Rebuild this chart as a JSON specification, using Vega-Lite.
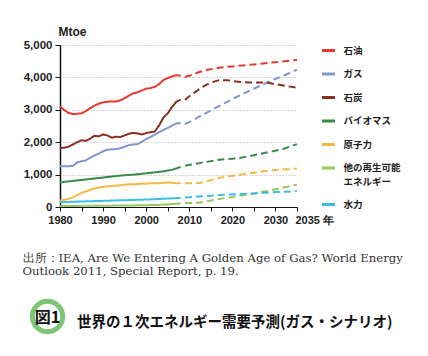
{
  "$schema": "https://vega.github.io/schema/vega-lite/v6.json",
  "width": 237,
  "height": 162,
  "autosize": {"type": "none"},
  "padding": {"left": 60, "top": 45, "right": 131, "bottom": 149},
  "background": "white",
  "config": {"view": {"stroke": null}, "font": "Liberation Sans", "style": {"guide-label": {"lineHeight": 14}}},
  "resolve": {"axis": {"x": "independent", "y": "independent"}},
  "title": {
    "text": "世界の１次エネルギー需要予測(ガス・シナリオ)",
    "orient": "bottom",
    "anchor": "start",
    "frame": "group",
    "dx": 17,
    "offset": -26,
    "font": "Noto Sans CJK JP",
    "fontSize": 14.5,
    "fontWeight": "bold",
    "color": "#111",
    "baseline": "top"
  },
  "layer": [
    {
      "data": {
        "values": [
          {"s": "石油", "t": "実績", "yr": 1980, "v": 3100},
          {"s": "石油", "t": "実績", "yr": 1981, "v": 2990},
          {"s": "石油", "t": "実績", "yr": 1982, "v": 2900},
          {"s": "石油", "t": "実績", "yr": 1983, "v": 2870},
          {"s": "石油", "t": "実績", "yr": 1984, "v": 2880},
          {"s": "石油", "t": "実績", "yr": 1985, "v": 2890},
          {"s": "石油", "t": "実績", "yr": 1986, "v": 2960},
          {"s": "石油", "t": "実績", "yr": 1987, "v": 3050},
          {"s": "石油", "t": "実績", "yr": 1988, "v": 3130},
          {"s": "石油", "t": "実績", "yr": 1989, "v": 3190},
          {"s": "石油", "t": "実績", "yr": 1990, "v": 3230},
          {"s": "石油", "t": "実績", "yr": 1991, "v": 3250},
          {"s": "石油", "t": "実績", "yr": 1992, "v": 3260},
          {"s": "石油", "t": "実績", "yr": 1993, "v": 3260},
          {"s": "石油", "t": "実績", "yr": 1994, "v": 3290},
          {"s": "石油", "t": "実績", "yr": 1995, "v": 3360},
          {"s": "石油", "t": "実績", "yr": 1996, "v": 3440},
          {"s": "石油", "t": "実績", "yr": 1997, "v": 3510},
          {"s": "石油", "t": "実績", "yr": 1998, "v": 3540},
          {"s": "石油", "t": "実績", "yr": 1999, "v": 3600},
          {"s": "石油", "t": "実績", "yr": 2000, "v": 3650},
          {"s": "石油", "t": "実績", "yr": 2001, "v": 3670},
          {"s": "石油", "t": "実績", "yr": 2002, "v": 3710},
          {"s": "石油", "t": "実績", "yr": 2003, "v": 3790},
          {"s": "石油", "t": "実績", "yr": 2004, "v": 3920},
          {"s": "石油", "t": "実績", "yr": 2005, "v": 3980},
          {"s": "石油", "t": "実績", "yr": 2006, "v": 4030},
          {"s": "石油", "t": "実績", "yr": 2007, "v": 4070},
          {"s": "石油", "t": "実績", "yr": 2008, "v": 4050},
          {"s": "石油", "t": "予測", "yr": 2009, "v": 4010},
          {"s": "石油", "t": "予測", "yr": 2010, "v": 4050},
          {"s": "石油", "t": "予測", "yr": 2012, "v": 4150},
          {"s": "石油", "t": "予測", "yr": 2014, "v": 4230},
          {"s": "石油", "t": "予測", "yr": 2017, "v": 4300},
          {"s": "石油", "t": "予測", "yr": 2020, "v": 4340},
          {"s": "石油", "t": "予測", "yr": 2025, "v": 4400},
          {"s": "石油", "t": "予測", "yr": 2030, "v": 4470},
          {"s": "石油", "t": "予測", "yr": 2035, "v": 4540},

          {"s": "ガス", "t": "実績", "yr": 1980, "v": 1260},
          {"s": "ガス", "t": "実績", "yr": 1981, "v": 1260},
          {"s": "ガス", "t": "実績", "yr": 1982, "v": 1260},
          {"s": "ガス", "t": "実績", "yr": 1983, "v": 1270},
          {"s": "ガス", "t": "実績", "yr": 1984, "v": 1380},
          {"s": "ガス", "t": "実績", "yr": 1985, "v": 1410},
          {"s": "ガス", "t": "実績", "yr": 1986, "v": 1440},
          {"s": "ガス", "t": "実績", "yr": 1987, "v": 1520},
          {"s": "ガス", "t": "実績", "yr": 1988, "v": 1590},
          {"s": "ガス", "t": "実績", "yr": 1989, "v": 1650},
          {"s": "ガス", "t": "実績", "yr": 1990, "v": 1720},
          {"s": "ガス", "t": "実績", "yr": 1991, "v": 1770},
          {"s": "ガス", "t": "実績", "yr": 1992, "v": 1780},
          {"s": "ガス", "t": "実績", "yr": 1993, "v": 1790},
          {"s": "ガス", "t": "実績", "yr": 1994, "v": 1810},
          {"s": "ガス", "t": "実績", "yr": 1995, "v": 1860},
          {"s": "ガス", "t": "実績", "yr": 1996, "v": 1910},
          {"s": "ガス", "t": "実績", "yr": 1997, "v": 1930},
          {"s": "ガス", "t": "実績", "yr": 1998, "v": 1940},
          {"s": "ガス", "t": "実績", "yr": 1999, "v": 2010},
          {"s": "ガス", "t": "実績", "yr": 2000, "v": 2100},
          {"s": "ガス", "t": "実績", "yr": 2001, "v": 2160},
          {"s": "ガス", "t": "実績", "yr": 2002, "v": 2230},
          {"s": "ガス", "t": "実績", "yr": 2003, "v": 2310},
          {"s": "ガス", "t": "実績", "yr": 2004, "v": 2380},
          {"s": "ガス", "t": "実績", "yr": 2005, "v": 2440},
          {"s": "ガス", "t": "実績", "yr": 2006, "v": 2510},
          {"s": "ガス", "t": "実績", "yr": 2007, "v": 2580},
          {"s": "ガス", "t": "実績", "yr": 2008, "v": 2590},
          {"s": "ガス", "t": "予測", "yr": 2009, "v": 2560},
          {"s": "ガス", "t": "予測", "yr": 2010, "v": 2620},
          {"s": "ガス", "t": "予測", "yr": 2013, "v": 2840},
          {"s": "ガス", "t": "予測", "yr": 2017, "v": 3120},
          {"s": "ガス", "t": "予測", "yr": 2021, "v": 3400},
          {"s": "ガス", "t": "予測", "yr": 2025, "v": 3650},
          {"s": "ガス", "t": "予測", "yr": 2029, "v": 3900},
          {"s": "ガス", "t": "予測", "yr": 2032, "v": 4060},
          {"s": "ガス", "t": "予測", "yr": 2035, "v": 4240},

          {"s": "石炭", "t": "実績", "yr": 1980, "v": 1820},
          {"s": "石炭", "t": "実績", "yr": 1981, "v": 1830},
          {"s": "石炭", "t": "実績", "yr": 1982, "v": 1860},
          {"s": "石炭", "t": "実績", "yr": 1983, "v": 1930},
          {"s": "石炭", "t": "実績", "yr": 1984, "v": 2000},
          {"s": "石炭", "t": "実績", "yr": 1985, "v": 2060},
          {"s": "石炭", "t": "実績", "yr": 1986, "v": 2040},
          {"s": "石炭", "t": "実績", "yr": 1987, "v": 2110},
          {"s": "石炭", "t": "実績", "yr": 1988, "v": 2200},
          {"s": "石炭", "t": "実績", "yr": 1989, "v": 2180},
          {"s": "石炭", "t": "実績", "yr": 1990, "v": 2240},
          {"s": "石炭", "t": "実績", "yr": 1991, "v": 2210},
          {"s": "石炭", "t": "実績", "yr": 1992, "v": 2140},
          {"s": "石炭", "t": "実績", "yr": 1993, "v": 2170},
          {"s": "石炭", "t": "実績", "yr": 1994, "v": 2160},
          {"s": "石炭", "t": "実績", "yr": 1995, "v": 2210},
          {"s": "石炭", "t": "実績", "yr": 1996, "v": 2260},
          {"s": "石炭", "t": "実績", "yr": 1997, "v": 2290},
          {"s": "石炭", "t": "実績", "yr": 1998, "v": 2270},
          {"s": "石炭", "t": "実績", "yr": 1999, "v": 2240},
          {"s": "石炭", "t": "実績", "yr": 2000, "v": 2280},
          {"s": "石炭", "t": "実績", "yr": 2001, "v": 2310},
          {"s": "石炭", "t": "実績", "yr": 2002, "v": 2330},
          {"s": "石炭", "t": "実績", "yr": 2003, "v": 2520},
          {"s": "石炭", "t": "実績", "yr": 2004, "v": 2760},
          {"s": "石炭", "t": "実績", "yr": 2005, "v": 2890},
          {"s": "石炭", "t": "実績", "yr": 2006, "v": 3090},
          {"s": "石炭", "t": "実績", "yr": 2007, "v": 3250},
          {"s": "石炭", "t": "実績", "yr": 2008, "v": 3310},
          {"s": "石炭", "t": "予測", "yr": 2009, "v": 3300},
          {"s": "石炭", "t": "予測", "yr": 2010, "v": 3420},
          {"s": "石炭", "t": "予測", "yr": 2013, "v": 3700},
          {"s": "石炭", "t": "予測", "yr": 2015, "v": 3840},
          {"s": "石炭", "t": "予測", "yr": 2017, "v": 3920},
          {"s": "石炭", "t": "予測", "yr": 2019, "v": 3910},
          {"s": "石炭", "t": "予測", "yr": 2021, "v": 3870},
          {"s": "石炭", "t": "予測", "yr": 2024, "v": 3840},
          {"s": "石炭", "t": "予測", "yr": 2028, "v": 3840},
          {"s": "石炭", "t": "予測", "yr": 2030, "v": 3790},
          {"s": "石炭", "t": "予測", "yr": 2035, "v": 3680},

          {"s": "バイオマス", "t": "実績", "yr": 1980, "v": 760},
          {"s": "バイオマス", "t": "実績", "yr": 1982, "v": 790},
          {"s": "バイオマス", "t": "実績", "yr": 1984, "v": 820},
          {"s": "バイオマス", "t": "実績", "yr": 1986, "v": 850},
          {"s": "バイオマス", "t": "実績", "yr": 1988, "v": 880},
          {"s": "バイオマス", "t": "実績", "yr": 1990, "v": 910},
          {"s": "バイオマス", "t": "実績", "yr": 1992, "v": 940},
          {"s": "バイオマス", "t": "実績", "yr": 1994, "v": 970},
          {"s": "バイオマス", "t": "実績", "yr": 1996, "v": 990},
          {"s": "バイオマス", "t": "実績", "yr": 1998, "v": 1010},
          {"s": "バイオマス", "t": "実績", "yr": 2000, "v": 1040},
          {"s": "バイオマス", "t": "実績", "yr": 2002, "v": 1070},
          {"s": "バイオマス", "t": "実績", "yr": 2004, "v": 1100},
          {"s": "バイオマス", "t": "実績", "yr": 2006, "v": 1150},
          {"s": "バイオマス", "t": "実績", "yr": 2007, "v": 1190},
          {"s": "バイオマス", "t": "実績", "yr": 2008, "v": 1240},
          {"s": "バイオマス", "t": "予測", "yr": 2009, "v": 1270},
          {"s": "バイオマス", "t": "予測", "yr": 2013, "v": 1370},
          {"s": "バイオマス", "t": "予測", "yr": 2017, "v": 1460},
          {"s": "バイオマス", "t": "予測", "yr": 2021, "v": 1500},
          {"s": "バイオマス", "t": "予測", "yr": 2025, "v": 1600},
          {"s": "バイオマス", "t": "予測", "yr": 2029, "v": 1710},
          {"s": "バイオマス", "t": "予測", "yr": 2032, "v": 1800},
          {"s": "バイオマス", "t": "予測", "yr": 2035, "v": 1940},

          {"s": "原子力", "t": "実績", "yr": 1980, "v": 200},
          {"s": "原子力", "t": "実績", "yr": 1981, "v": 220},
          {"s": "原子力", "t": "実績", "yr": 1982, "v": 250},
          {"s": "原子力", "t": "実績", "yr": 1983, "v": 300},
          {"s": "原子力", "t": "実績", "yr": 1984, "v": 370},
          {"s": "原子力", "t": "実績", "yr": 1985, "v": 440},
          {"s": "原子力", "t": "実績", "yr": 1986, "v": 480},
          {"s": "原子力", "t": "実績", "yr": 1987, "v": 530},
          {"s": "原子力", "t": "実績", "yr": 1988, "v": 570},
          {"s": "原子力", "t": "実績", "yr": 1989, "v": 600},
          {"s": "原子力", "t": "実績", "yr": 1990, "v": 620},
          {"s": "原子力", "t": "実績", "yr": 1991, "v": 640},
          {"s": "原子力", "t": "実績", "yr": 1992, "v": 650},
          {"s": "原子力", "t": "実績", "yr": 1993, "v": 660},
          {"s": "原子力", "t": "実績", "yr": 1994, "v": 670},
          {"s": "原子力", "t": "実績", "yr": 1995, "v": 690},
          {"s": "原子力", "t": "実績", "yr": 1996, "v": 700},
          {"s": "原子力", "t": "実績", "yr": 1997, "v": 700},
          {"s": "原子力", "t": "実績", "yr": 1998, "v": 710},
          {"s": "原子力", "t": "実績", "yr": 1999, "v": 720},
          {"s": "原子力", "t": "実績", "yr": 2000, "v": 720},
          {"s": "原子力", "t": "実績", "yr": 2001, "v": 730},
          {"s": "原子力", "t": "実績", "yr": 2002, "v": 740},
          {"s": "原子力", "t": "実績", "yr": 2003, "v": 730},
          {"s": "原子力", "t": "実績", "yr": 2004, "v": 750},
          {"s": "原子力", "t": "実績", "yr": 2005, "v": 760},
          {"s": "原子力", "t": "実績", "yr": 2006, "v": 750},
          {"s": "原子力", "t": "実績", "yr": 2007, "v": 730},
          {"s": "原子力", "t": "実績", "yr": 2008, "v": 730},
          {"s": "原子力", "t": "予測", "yr": 2009, "v": 730},
          {"s": "原子力", "t": "予測", "yr": 2012, "v": 730},
          {"s": "原子力", "t": "予測", "yr": 2014, "v": 790},
          {"s": "原子力", "t": "予測", "yr": 2017, "v": 900},
          {"s": "原子力", "t": "予測", "yr": 2021, "v": 980},
          {"s": "原子力", "t": "予測", "yr": 2025, "v": 1060},
          {"s": "原子力", "t": "予測", "yr": 2029, "v": 1130},
          {"s": "原子力", "t": "予測", "yr": 2035, "v": 1190},

          {"s": "他の再生可能エネルギー", "t": "実績", "yr": 1980, "v": 30},
          {"s": "他の再生可能エネルギー", "t": "実績", "yr": 1985, "v": 35},
          {"s": "他の再生可能エネルギー", "t": "実績", "yr": 1990, "v": 40},
          {"s": "他の再生可能エネルギー", "t": "実績", "yr": 1995, "v": 45},
          {"s": "他の再生可能エネルギー", "t": "実績", "yr": 2000, "v": 55},
          {"s": "他の再生可能エネルギー", "t": "実績", "yr": 2003, "v": 65},
          {"s": "他の再生可能エネルギー", "t": "実績", "yr": 2005, "v": 80},
          {"s": "他の再生可能エネルギー", "t": "実績", "yr": 2007, "v": 100},
          {"s": "他の再生可能エネルギー", "t": "実績", "yr": 2008, "v": 110},
          {"s": "他の再生可能エネルギー", "t": "予測", "yr": 2009, "v": 120},
          {"s": "他の再生可能エネルギー", "t": "予測", "yr": 2012, "v": 130},
          {"s": "他の再生可能エネルギー", "t": "予測", "yr": 2015, "v": 200},
          {"s": "他の再生可能エネルギー", "t": "予測", "yr": 2017, "v": 250},
          {"s": "他の再生可能エネルギー", "t": "予測", "yr": 2021, "v": 330},
          {"s": "他の再生可能エネルギー", "t": "予測", "yr": 2025, "v": 420},
          {"s": "他の再生可能エネルギー", "t": "予測", "yr": 2029, "v": 520},
          {"s": "他の再生可能エネルギー", "t": "予測", "yr": 2035, "v": 690},

          {"s": "水力", "t": "実績", "yr": 1980, "v": 150},
          {"s": "水力", "t": "実績", "yr": 1985, "v": 170},
          {"s": "水力", "t": "実績", "yr": 1990, "v": 190},
          {"s": "水力", "t": "実績", "yr": 1995, "v": 210},
          {"s": "水力", "t": "実績", "yr": 2000, "v": 230},
          {"s": "水力", "t": "実績", "yr": 2005, "v": 260},
          {"s": "水力", "t": "実績", "yr": 2008, "v": 280},
          {"s": "水力", "t": "予測", "yr": 2009, "v": 290},
          {"s": "水力", "t": "予測", "yr": 2010, "v": 300},
          {"s": "水力", "t": "予測", "yr": 2015, "v": 350},
          {"s": "水力", "t": "予測", "yr": 2020, "v": 390},
          {"s": "水力", "t": "予測", "yr": 2025, "v": 420},
          {"s": "水力", "t": "予測", "yr": 2030, "v": 460},
          {"s": "水力", "t": "予測", "yr": 2035, "v": 490}
        ]
      },
      "mark": {"type": "line", "strokeWidth": 2, "clip": false},
      "encoding": {
        "x": {
          "field": "yr",
          "type": "quantitative",
          "scale": {"domain": [1980, 2035], "nice": false, "zero": false},
          "axis": {
            "values": [1980, 1985, 1990, 1995, 2000, 2005, 2010, 2015, 2020, 2025, 2030, 2035],
            "format": "d",
            "labelExpr": "datum.value == 2035 ? '2035 年' : (datum.value % 10 == 0 ? datum.label : '')",
            "labelAlign": {"condition": {"test": "datum.value == 2035", "value": "left"}, "value": "center"},
            "labelOffset": {"condition": {"test": "datum.value == 2035", "value": -2}, "value": 0},
            "labelOverlap": false,
            "labelBound": false,
            "labelFont": "Liberation Sans",
            "labelFontSize": 11,
            "labelFontWeight": "bold",
            "labelColor": "#222",
            "labelPadding": 3,
            "grid": false,
            "domainColor": "#111",
            "domainWidth": 1.2,
            "tickColor": "#111",
            "tickSize": 4,
            "tickWidth": 1,
            "title": ["出所：IEA, Are We Entering A Golden Age of Gas? World Energy", "　　　Outlook 2011, Special Report, p. 19."],
            "titleX": -38,
            "titleY": 54,
            "titleAlign": "left",
            "titleBaseline": "alphabetic",
            "titleLineHeight": 13,
            "titleFont": "DejaVu Serif",
            "titleFontSize": 11.7,
            "titleFontWeight": "normal",
            "titleColor": "#333"
          }
        },
        "y": {
          "field": "v",
          "type": "quantitative",
          "scale": {"domain": [0, 5000], "nice": false},
          "axis": {
            "values": [0, 1000, 2000, 3000, 4000, 5000],
            "format": ",.0f",
            "labelFont": "Liberation Sans",
            "labelFontSize": 11.5,
            "labelFontWeight": "bold",
            "labelColor": "#222",
            "labelPadding": 3,
            "tickSize": 5,
            "tickColor": "#111",
            "domainColor": "#111",
            "domainWidth": 1.5,
            "grid": true,
            "gridColor": "#999",
            "gridDash": [1, 2],
            "gridWidth": 0.8,
            "title": "Mtoe",
            "titleAngle": 0,
            "titleAlign": "left",
            "titleBaseline": "middle",
            "titleX": -2,
            "titleY": -14,
            "titleFont": "Liberation Sans",
            "titleFontSize": 12,
            "titleFontWeight": "bold",
            "titleColor": "#222"
          }
        },
        "color": {
          "field": "s",
          "type": "nominal",
          "scale": {
            "domain": ["石油", "ガス", "石炭", "バイオマス", "原子力", "他の再生可能エネルギー", "水力"],
            "range": ["#e63a2e", "#8096cf", "#8b3020", "#3a8a4a", "#f6b846", "#98c762", "#3cbfe0"]
          },
          "legend": {
            "title": null,
            "orient": "none",
            "legendX": 260.5,
            "legendY": -2.5,
            "padding": 0,
            "symbolType": "stroke",
            "symbolSize": 169,
            "symbolStrokeWidth": 3,
            "labelFont": "Noto Sans CJK JP",
            "labelFontSize": 9.5,
            "labelFontWeight": "bold",
            "labelColor": "#222",
            "labelOffset": 7,
            "rowPadding": 9.5,
            "labelExpr": "datum.label == '他の再生可能エネルギー' ? ['他の再生可能', 'エネルギー'] : datum.label"
          }
        },
        "strokeDash": {
          "field": "t",
          "type": "nominal",
          "scale": {"domain": ["実績", "予測"], "range": [[1, 0], [7, 4]]},
          "legend": null
        },
        "detail": {"field": "s"},
        "order": {"field": "yr", "type": "quantitative"}
      }
    },
    {
      "data": {"values": [{"label": "図1"}]},
      "mark": {"type": "point", "shape": "circle", "filled": false, "size": 920, "strokeWidth": 5, "color": "#7cc576", "opacity": 1, "clip": false},
      "encoding": {
        "x": {"datum": 1977.1, "type": "quantitative", "scale": {"domain": [1980, 2035], "nice": false, "zero": false}, "axis": null},
        "y": {"datum": -3380, "type": "quantitative", "scale": {"domain": [0, 5000], "nice": false}, "axis": null}
      }
    },
    {
      "data": {"values": [{"label": "図1"}]},
      "mark": {"type": "text", "font": "Noto Sans CJK JP", "fontSize": 16, "fontWeight": "bold", "color": "#111", "align": "center", "baseline": "middle", "dy": 1, "clip": false},
      "encoding": {
        "x": {"datum": 1977.1, "type": "quantitative", "scale": {"domain": [1980, 2035], "nice": false, "zero": false}, "axis": null},
        "y": {"datum": -3380, "type": "quantitative", "scale": {"domain": [0, 5000], "nice": false}, "axis": null},
        "text": {"field": "label"}
      }
    }
  ]
}
